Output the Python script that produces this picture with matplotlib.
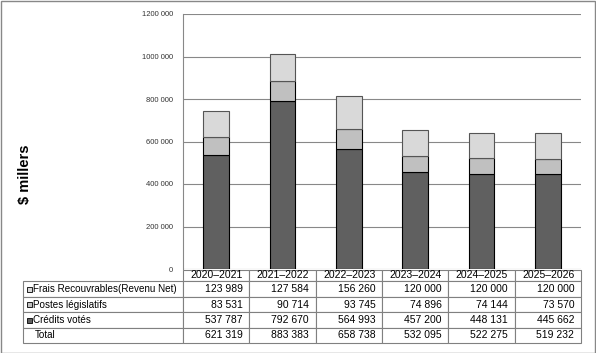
import numpy as np
import matplotlib.pyplot as plt
from matplotlib.patches import Rectangle

plt.rcParams['font.family'] = ['Liberation Sans', 'DejaVu Sans']

years = ['2020\u20132021', '2021\u20132022', '2022\u20132023', '2023\u20132024', '2024\u20132025', '2025\u20132026']
frais = [123989, 127584, 156260, 120000, 120000, 120000]
postes = [83531, 90714, 93745, 74896, 74144, 73570]
credits = [537787, 792670, 564993, 457200, 448131, 445662]
totals = [621319, 883383, 658738, 532095, 522275, 519232]
row_names = ['Frais Recouvrables(Revenu Net)', 'Postes législatifs', 'Crédits votés', 'Total']
yticks = [0, 200000, 400000, 600000, 800000, 1000000, 1200000]
ytick_labels = ['0', '200 000', '400 000', '600 000', '800 000', '1000 000', '1200 000']

c_credits = '#606060'
c_postes = '#c0c0c0'
c_frais = '#d9d9d9'


def fmt(v):
    return f'{v:,}'.replace(',', ' ')


fig = plt.figure(figsize=(5.96, 3.53), dpi=100)
ax = fig.add_axes([183 / 596, 1 - 269 / 353, 398 / 596, 255 / 353])

x = np.arange(len(years))
w = 0.39
ax.bar(x, credits, w, color=c_credits, edgecolor='black', linewidth=0.8, zorder=3)
ax.bar(x, postes, w, bottom=credits, color=c_postes, edgecolor='black', linewidth=0.8, zorder=3)
bot2 = np.array(credits) + np.array(postes)
ax.bar(x, frais, w, bottom=bot2, color=c_frais, edgecolor='#555555', linewidth=0.8, zorder=3)

ax.set_xlim(-0.5, len(years) - 0.5)
ax.set_ylim(0, 1200000)
ax.set_yticks(yticks)
ax.set_yticklabels(ytick_labels)
ax.tick_params(axis='y', length=0, pad=7, labelsize=5.5, colors='#333333')
ax.set_xticks([])
ax.grid(axis='y', color='#888888', linewidth=0.8, zorder=0)
for s in ['top', 'right', 'bottom']:
    ax.spines[s].set_visible(False)
ax.spines['left'].set_color('#888888')

fig.text(25 / 596, 1 - 174 / 353, '$ millers', rotation=90, ha='center', va='center',
         fontsize=10.5, fontweight='bold')

# data table under the bars
cell_text = [[''] + years]
for name, vals in zip(row_names, [frais, postes, credits, totals]):
    cell_text.append([name] + [fmt(v) for v in vals])

tab_left = (23 - 183) / 398
tab_w = (581 - 23) / 398
tab_top = (269 - 270) / 255
tab_h = (343 - 270) / 255
col_w = [160] + [398 / 6] * 6
tbl = ax.table(cellText=cell_text, colWidths=[c / sum(col_w) for c in col_w],
               bbox=[tab_left, tab_top - tab_h, tab_w, tab_h])
tbl.auto_set_font_size(False)
row_h = [11, 16, 15, 16, 15]
for (r, c), cell in tbl.get_celld().items():
    cell.set_height(row_h[r])
    cell.set_edgecolor('#808080')
    cell.set_linewidth(0.8)
    cell.get_text().set_fontsize(7.5)
    if c == 0:
        cell.get_text().set_ha('left')
        cell.get_text().set_fontsize(7.1)
        cell.PAD = 0.075 if r == 4 else 0.062
    if r == 0 and c == 0:
        cell.visible_edges = ''

# legend swatches in the row labels
for i, col in enumerate([c_frais, c_postes, c_credits]):
    yc = 1 - (289 + i * 15.5) / 353
    fig.patches.append(Rectangle((27 / 596, yc - 2.5 / 353), 5 / 596, 5 / 353,
                                 transform=fig.transFigure, facecolor=col,
                                 edgecolor='black', linewidth=0.6))

fig.patches.append(Rectangle((0.5 / 596, 0.5 / 353), 594.5 / 596, 351.5 / 353,
                             transform=fig.transFigure, fill=False,
                             edgecolor='#888888', linewidth=1))

fig.savefig('out.png', dpi=100)
